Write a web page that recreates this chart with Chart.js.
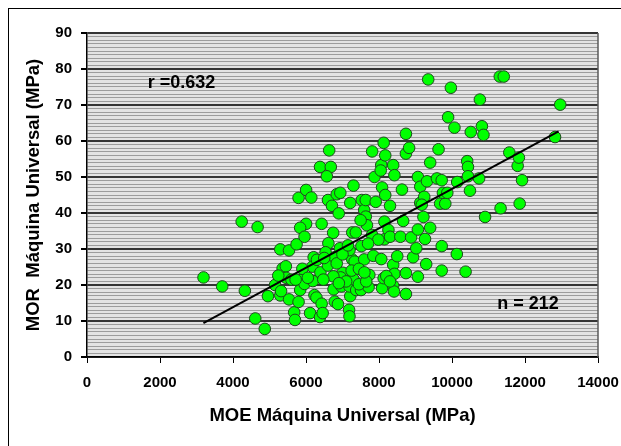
<!DOCTYPE html>
<html><head><meta charset="utf-8">
<script src="https://cdn.jsdelivr.net/npm/chart.js"></script>
<style>
html,body{margin:0;padding:0;background:#fff;}
#wrap{position:relative;width:621px;height:446px;overflow:hidden;background:#fff;}
#frame{position:absolute;left:8px;top:8px;width:700px;height:600px;border:1px solid #000;box-sizing:border-box;}
canvas{position:absolute;left:0;top:0;}
</style></head><body>
<div id="wrap"><div id="frame"></div><canvas id="c" width="621" height="446"></canvas></div>
<script>
// MOE (x, MPa) values
const moeValues = [
3192,3704,4325,4238,4674,4609,4870,4957,5153,5295,5295,5317,5360,5448,5458,5535,5535,5742,5796,6003,
6145,6003,5840,5960,5676,5698,5796,5840,5905,5960,6112,6210,6177,6188,6232,6286,6384,6428,6395,6428,
6384,6679,6570,6635,6602,6711,6842,6940,6897,7300,6744,6613,6537,6602,6788,6929,6755,6788,6875,6973,
7005,6951,6842,7180,7191,7212,7191,7300,7267,7332,7191,7212,7267,7365,7376,7507,7528,7594,7637,7670,
7496,7518,7594,7637,7812,7877,7910,7812,7844,7735,7714,8062,8084,8128,8062,8128,8171,8084,8171,8302,
8149,8149,8258,8302,8389,8422,8389,8422,8389,8411,8629,8662,8585,8738,8738,8825,8738,8738,8879,8934,
9021,9065,9065,9065,9130,9130,9239,9217,9261,9402,9293,9315,9348,9402,9588,9631,9718,9675,9816,9751,
9871,9718,9718,9893,9969,10067,10132,10143,10372,10416,10437,10437,10492,10514,10742,10764,10819,10862,10906,11309,
11418,11331,11570,11799,11832,11854,11919,12823,12965,
7983,6749,7450,7650,8200,7100,6900,7250,7450,6300,6500,5600,5900,6050,7000,7150,7700,8500,8300,7600,
5240,5715,6474,8047,9172,6456
];
// MOR (y, MPa) values
const morValues = [
22.1,19.6,18.4,37.6,36.1,10.7,7.8,16.9,20.0,29.9,17.1,18.3,24.6,25.2,22.0,29.6,16.0,31.3,44.2,46.4,
44.3,37.0,35.9,33.4,12.4,10.3,15.3,18.6,21.6,20.3,12.2,27.7,25.1,21.1,17.2,16.5,11.1,14.8,23.5,37.0,
52.8,52.8,50.2,57.4,43.6,42.0,45.2,45.6,39.9,47.6,34.5,31.6,29.1,25.4,27.7,30.2,18.8,15.4,14.7,19.6,
23.4,22.1,26.0,13.1,11.3,16.9,19.6,21.6,27.1,26.5,29.7,42.8,34.6,34.6,18.6,18.6,43.6,40.8,39.0,36.6,
38.0,30.8,27.1,43.6,57.1,50.0,43.1,33.9,28.1,22.8,19.4,27.2,19.1,21.9,53.3,59.5,56.0,47.1,45.0,42.0,
37.6,32.7,35.3,33.4,53.3,50.5,25.6,23.1,19.8,18.2,46.5,37.8,33.4,62.0,56.5,58.1,23.3,17.5,33.2,27.7,
30.2,35.4,22.3,50.0,47.3,42.8,44.5,38.9,32.8,35.9,25.8,48.8,77.1,54.0,49.6,57.7,49.1,42.6,42.6,45.6,
45.6,30.8,24.0,66.6,74.8,63.7,28.6,48.6,23.7,54.4,52.8,50.2,46.2,62.5,49.6,71.5,64.1,61.7,38.9,77.9,
77.9,41.3,56.8,53.1,55.4,42.6,49.1,61.1,70.1,
32.6,22.4,20.2,21.0,22.5,21.0,20.5,24.0,24.5,27.0,27.5,21.5,24.5,22.0,28.5,31.0,31.5,28.0,21.0,23.5,
22.6,21.5,21.5,51.8,42.3,12.2
];
// trend line end points
const fitX = [3190, 12920];
const fitY = [9.4, 62.7];
// axis ticks
const xTicks = [0, 2000, 4000, 6000, 8000, 10000, 12000, 14000];
const yTicks = [0, 10, 20, 30, 40, 50, 60, 70, 80, 90];
const xTitle = 'MOE Máquina Universal (MPa)';
const yTitle = 'MOR  Máquina Universal (MPa)';
const rLabel = 'r =0.632';
const nLabel = 'n = 212';

const FONT = "'Liberation Sans', Arial, Helvetica, sans-serif";

const plotDecor = {
  id: 'plotDecor',
  beforeDraw(chart) {
    const {ctx, chartArea: a} = chart;
    ctx.save();
    ctx.fillStyle = '#e3e3e3';
    ctx.fillRect(a.left, a.top, a.right - a.left, a.bottom - a.top);
    ctx.restore();
  },
  beforeDatasetsDraw(chart) {
    const {ctx, chartArea: a} = chart;
    ctx.save();
    ctx.strokeStyle = '#5a5a5a';
    ctx.lineWidth = 1.5;
    ctx.beginPath();
    ctx.moveTo(a.right, a.top);
    ctx.lineTo(a.right, a.bottom);
    ctx.stroke();
    ctx.restore();
  },
  afterDatasetsDraw(chart) {
    const {ctx, scales} = chart;
    ctx.save();
    ctx.fillStyle = '#000';
    ctx.font = 'bold 18px ' + FONT;
    ctx.textAlign = 'left';
    ctx.textBaseline = 'middle';
    ctx.fillText(rLabel, scales.x.getPixelForValue(1665), scales.y.getPixelForValue(76.2));
    ctx.fillText(nLabel, scales.x.getPixelForValue(11240), scales.y.getPixelForValue(14.8));
    ctx.restore();
  }
};

new Chart(document.getElementById('c'), {
  type: 'scatter',
  data: {
    datasets: [
      {
        type: 'line',
        data: fitX.map((x, i) => ({x, y: fitY[i]})),
        borderColor: '#000',
        borderWidth: 2,
        pointRadius: 0,
        fill: false,
        order: 0
      },
      {
        type: 'scatter',
        data: moeValues.map((x, i) => ({x, y: morValues[i]})),
        backgroundColor: '#00ff00',
        borderColor: '#1d4a1d',
        borderWidth: 1,
        pointRadius: 5.8,
        order: 1
      }
    ]
  },
  options: {
    responsive: false,
    animation: false,
    devicePixelRatio: 1,
    layout: {padding: {left: 0, right: 23, top: 33, bottom: 0}},
    plugins: {legend: {display: false}, tooltip: {enabled: false}},
    scales: {
      x: {
        type: 'linear', min: 0, max: 14000,
        afterBuildTicks(scale) { scale.ticks = xTicks.map(v => ({value: v})); },
        ticks: {callback: v => String(v), font: {family: FONT, weight: 'bold', size: 15}, color: '#000', padding: 11, maxRotation: 0, autoSkip: false},
        grid: {drawOnChartArea: false, tickLength: 6, tickColor: '#000', tickWidth: 1},
        border: {color: '#000', width: 1.5},
        title: {display: true, text: xTitle, color: '#000', font: {family: FONT, weight: 'bold', size: 18.5}, padding: {top: 0, bottom: 19}},
        afterFit(scale) { scale.height = 89; scale.paddingRight = 0; }
      },
      y: {
        type: 'linear', min: 0, max: 90,
        afterBuildTicks(scale) { scale.ticks = Array.from({length: 91}, (_, i) => ({value: i})); },
        ticks: {
          autoSkip: false,
          callback: v => (yTicks.includes(v) ? String(v) : ''),
          font: {family: FONT, weight: 'bold', size: 15}, color: '#000', padding: 9
        },
        grid: {
          color: c => (c.tick && c.tick.value % 10 === 0 ? '#353535' : '#9c9c9c'),
          lineWidth: c => (c.tick && c.tick.value % 10 === 0 ? 2 : 1),
          tickColor: c => (c.tick && c.tick.value % 10 === 0 ? '#000' : 'rgba(0,0,0,0)'),
          tickLength: 6
        },
        border: {color: '#000', width: 1.5},
        title: {display: true, text: yTitle, color: '#000', font: {family: FONT, weight: 'bold', size: 18.5}, padding: {top: 23, bottom: 0}},
        afterFit(scale) { scale.width = 87; }
      }
    }
  },
  plugins: [plotDecor]
});
</script>
</body></html>
